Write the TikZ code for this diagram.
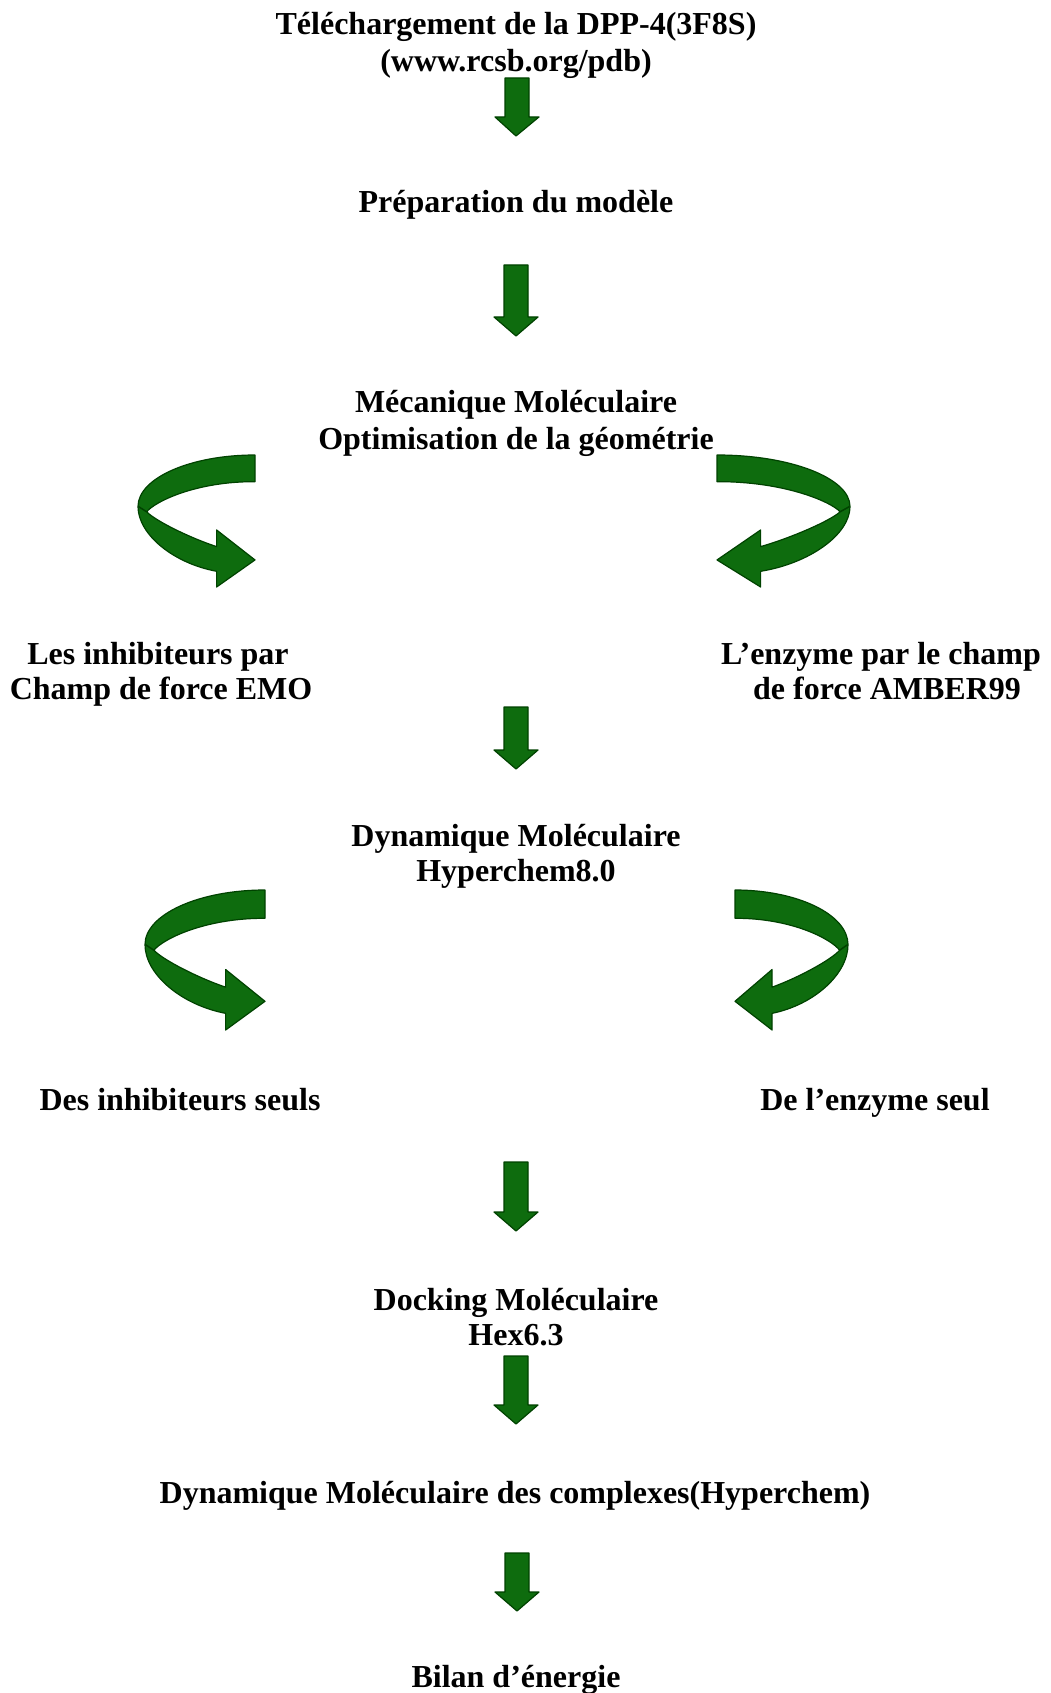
\documentclass[tikz,border=0pt]{standalone}
\usepackage{fontspec}
\setmainfont{Liberation Serif}
\usetikzlibrary{calc}
\definecolor{agreen}{RGB}{14,108,14}
\definecolor{adark}{RGB}{0,66,0}
\tikzset{
  lbl/.style={anchor=base, inner sep=0pt, font=\fontsize{32}{38}\selectfont\bfseries},
  ribbon/.style={fill=agreen, draw=adark, line width=1.2pt, line join=round},
  curl/.pic={
    \filldraw[ribbon] (1,0) .. controls (0.448,0) and (0,0.175) .. (0,0.39)
      .. controls (0,0.6) and (0.3,0.82) .. (0.672,0.881)
      -- (0.672,1) -- (1,0.795) -- (0.672,0.568) -- (0.672,0.694)
      .. controls (0.45,0.63) and (0.15,0.5) .. (0.074,0.43)
      .. controls (0.15,0.35) and (0.5,0.2) .. (1,0.202) -- cycle;
    \draw[adark, line width=1.5pt] (0.003,0.39) -- (0.074,0.43);
  }
}
% block arrow from coordinate #1 (top centre) to #2 (tip)
\newcommand\gdownarrow[2]{%
  \path let \p1=(#1), \p2=(#2) in
    [ribbon] (\x1-12pt,\y1) -- (\x1+12pt,\y1) -- (\x1+12pt,\y2+19pt) -- (\x1+22pt,\y2+19pt)
    -- (\x2,\y2) -- (\x1-22pt,\y2+19pt) -- (\x1-12pt,\y2+19pt) -- cycle;}
\begin{document}
\begin{tikzpicture}[x=1pt,y=-1pt]
\useasboundingbox[fill=white] (0,0) rectangle (1050,1693);

\node[lbl] (t1a) at (516,35) {Téléchargement de la DPP-4(3F8S)};
\node[lbl] (t1b) at (516,72) {(www.rcsb.org/pdb)};
\node[lbl] (t2) at (516,213) {Préparation du modèle};
\node[lbl] (t3a) at (516,412) {Mécanique Moléculaire};
\node[lbl] (t3b) at (516,449) {Optimisation de la géométrie};
\node[lbl] (t4a) at (158,664) {Les inhibiteurs par};
\node[lbl] (t4b) at (161,699) {Champ de force EMO};
\node[lbl] (t5a) at (881,664) {L’enzyme par le champ};
\node[lbl] (t5b) at (887,699) {de force AMBER99};
\node[lbl] (t6a) at (516,846) {Dynamique Moléculaire};
\node[lbl] (t6b) at (516,881) {Hyperchem8.0};
\node[lbl] (t7) at (180,1110) {Des inhibiteurs seuls};
\node[lbl] (t8) at (875,1110) {De l’enzyme seul};
\node[lbl] (t9a) at (516,1310) {Docking Moléculaire};
\node[lbl] (t9b) at (516,1345) {Hex6.3};
\node[lbl] (t10) at (515,1503) {Dynamique Moléculaire des complexes(Hyperchem)};
\node[lbl] (t11) at (516,1687) {Bilan d’énergie};

\coordinate (a1s) at (517,78);   \coordinate (a1e) at (516,136);
\coordinate (a2s) at (516,265);  \coordinate (a2e) at (516,336);
\coordinate (a3s) at (516,707);  \coordinate (a3e) at (516,769);
\coordinate (a4s) at (516,1162); \coordinate (a4e) at (516,1231);
\coordinate (a5s) at (516,1356); \coordinate (a5e) at (516,1424);
\coordinate (a6s) at (517,1553); \coordinate (a6e) at (517,1611);
\gdownarrow{a1s}{a1e}
\gdownarrow{a2s}{a2e}
\gdownarrow{a3s}{a3e}
\gdownarrow{a4s}{a4e}
\gdownarrow{a5s}{a5e}
\gdownarrow{a6s}{a6e}

\path (138,455) pic[xscale=117,yscale=132] {curl};
\path (850,455) pic[xscale=-133,yscale=132] {curl};
\path (145,890) pic[xscale=120,yscale=140] {curl};
\path (848,890) pic[xscale=-113,yscale=140] {curl};
\end{tikzpicture}
\end{document}
